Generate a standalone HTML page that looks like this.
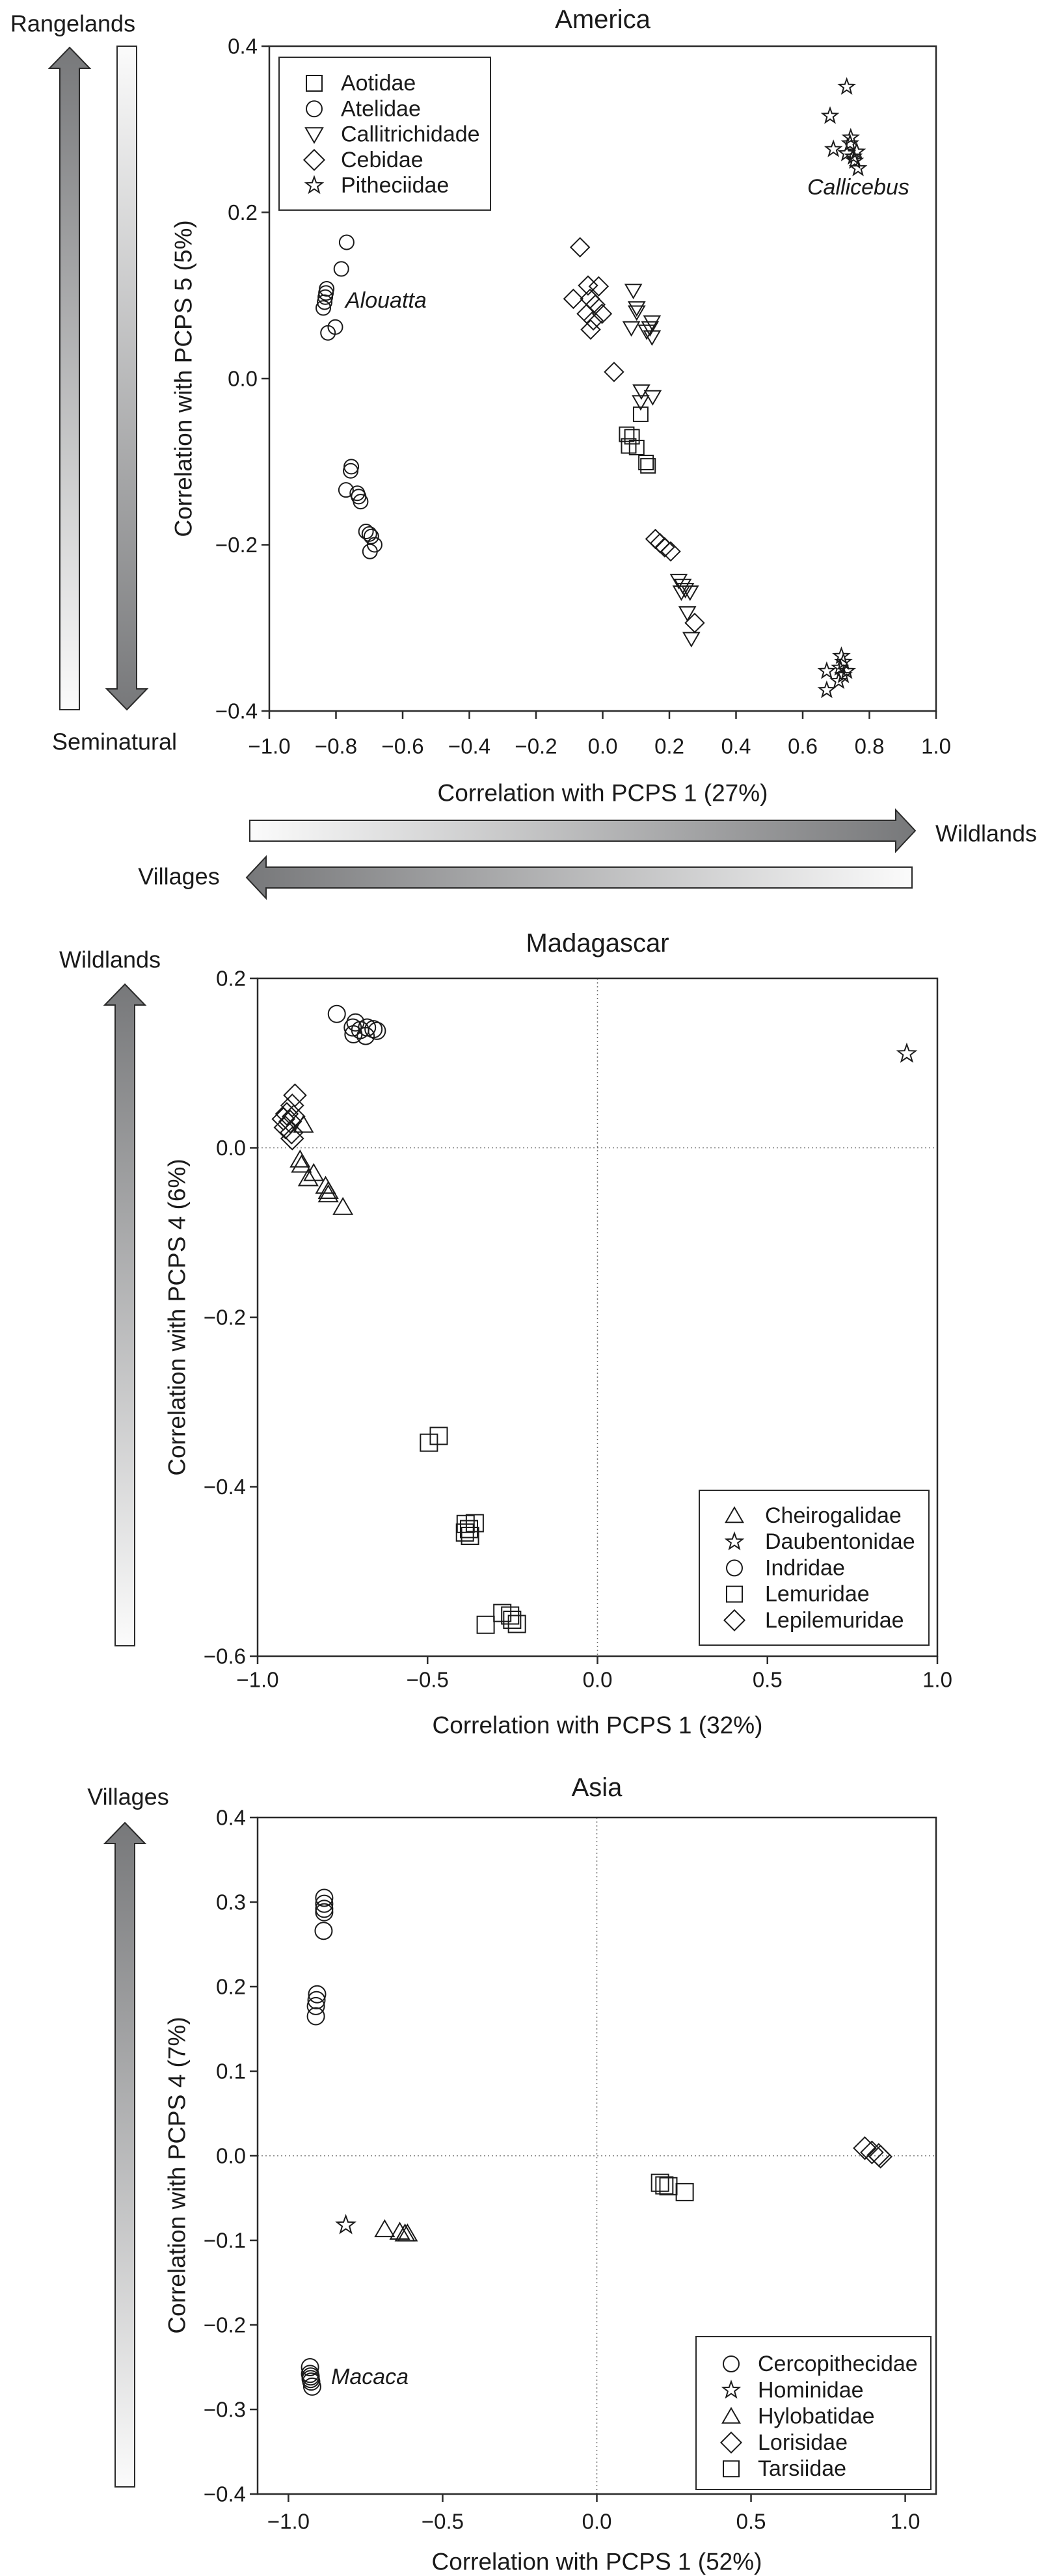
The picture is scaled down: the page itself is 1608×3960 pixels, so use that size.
<!DOCTYPE html>
<html><head><meta charset="utf-8"><style>
html,body{margin:0;padding:0;background:#fff;}
svg{display:block;font-family:"Liberation Sans",sans-serif;}
</style></head><body>
<svg id="fig" width="1608" height="3960" viewBox="0 0 1608 3960" xmlns="http://www.w3.org/2000/svg">
<defs>
<linearGradient id="gUp" x1="0" y1="0" x2="0" y2="1"><stop offset="0" stop-color="#77787a"/><stop offset="1" stop-color="#fbfbfb"/></linearGradient>
<linearGradient id="gDown" x1="0" y1="0" x2="0" y2="1"><stop offset="0" stop-color="#fbfbfb"/><stop offset="1" stop-color="#77787a"/></linearGradient>
<linearGradient id="gRight" x1="0" y1="0" x2="1" y2="0"><stop offset="0" stop-color="#fbfbfb"/><stop offset="1" stop-color="#77787a"/></linearGradient>
<linearGradient id="gLeft" x1="0" y1="0" x2="1" y2="0"><stop offset="0" stop-color="#77787a"/><stop offset="1" stop-color="#fbfbfb"/></linearGradient>
</defs>
<g id="layer"></g>
</svg>
<script>
// ---------- America data ----------
const amAotidaeX=[0.114,0.072,0.088,0.078,0.102,0.13,0.136];
const amAotidaeY=[-0.043,-0.067,-0.07,-0.081,-0.083,-0.101,-0.105];
const amAtelidaeX=[-0.768,-0.784,-0.828,-0.83,-0.832,-0.834,-0.838,-0.802,-0.824,-0.754,-0.756,-0.77,-0.736,-0.732,-0.726,-0.71,-0.70,-0.694,-0.684,-0.698];
const amAtelidaeY=[0.164,0.132,0.108,0.103,0.098,0.092,0.085,0.062,0.055,-0.106,-0.111,-0.134,-0.138,-0.142,-0.148,-0.184,-0.187,-0.19,-0.2,-0.208];
const amCalliX=[0.092,0.102,0.102,0.086,0.148,0.142,0.132,0.148,0.116,0.15,0.114,0.228,0.24,0.248,0.262,0.236,0.254,0.266];
const amCalliY=[0.106,0.085,0.08,0.061,0.068,0.061,0.057,0.05,-0.015,-0.022,-0.028,-0.243,-0.249,-0.254,-0.257,-0.257,-0.282,-0.313];
const amCebidaeX=[-0.068,-0.044,-0.012,-0.088,-0.038,-0.022,-0.048,-0.002,-0.028,-0.036,0.034,0.158,0.172,0.186,0.204,0.276];
const amCebidaeY=[0.158,0.112,0.111,0.096,0.096,0.089,0.078,0.078,0.07,0.059,0.008,-0.193,-0.198,-0.203,-0.208,-0.294];
const amPithX=[0.732,0.682,0.744,0.692,0.732,0.752,0.762,0.756,0.766,0.742,0.716,0.722,0.712,0.732,0.672,0.722,0.708,0.672];
const amPithY=[0.351,0.316,0.29,0.276,0.271,0.267,0.273,0.262,0.253,0.283,-0.334,-0.341,-0.348,-0.352,-0.352,-0.357,-0.364,-0.375];
const amXTicks=[-1.0,-0.8,-0.6,-0.4,-0.2,0.0,0.2,0.4,0.6,0.8,1.0];
const amYTicks=[-0.4,-0.2,0.0,0.2,0.4];
// ---------- Madagascar data ----------
const mdCheiroX=[-0.865,-0.875,-0.871,-0.835,-0.851,-0.8,-0.792,-0.792,-0.749];
const mdCheiroY=[0.027,-0.014,-0.02,-0.03,-0.036,-0.045,-0.051,-0.055,-0.07];
const mdDaubX=[0.91];
const mdDaubY=[0.111];
const mdIndriX=[-0.767,-0.712,-0.72,-0.698,-0.678,-0.659,-0.682,-0.718,-0.649];
const mdIndriY=[0.158,0.148,0.142,0.139,0.142,0.14,0.132,0.134,0.138];
const mdLemurX=[-0.467,-0.496,-0.361,-0.388,-0.378,-0.375,-0.39,-0.28,-0.257,-0.251,-0.329,-0.237];
const mdLemurY=[-0.34,-0.348,-0.443,-0.444,-0.45,-0.458,-0.454,-0.549,-0.552,-0.557,-0.563,-0.562];
const mdLepiX=[-0.89,-0.898,-0.914,-0.924,-0.904,-0.918,-0.894,-0.9,-0.898];
const mdLepiY=[0.062,0.05,0.04,0.034,0.031,0.024,0.037,0.018,0.011];
const mdXTicks=[-1.0,-0.5,0.0,0.5,1.0];
const mdYTicks=[-0.6,-0.4,-0.2,0.0,0.2];
// ---------- Asia data ----------
const asCercoX=[-0.884,-0.884,-0.884,-0.884,-0.886,-0.907,-0.909,-0.911,-0.911,-0.93,-0.93,-0.928,-0.926,-0.923,-0.928];
const asCercoY=[0.305,0.298,0.292,0.288,0.266,0.191,0.184,0.177,0.165,-0.25,-0.258,-0.264,-0.267,-0.273,-0.261];
const asHomX=[-0.814];
const asHomY=[-0.082];
const asHyloX=[-0.688,-0.639,-0.622,-0.614];
const asHyloY=[-0.087,-0.09,-0.092,-0.092];
const asLoriX=[0.869,0.892,0.914,0.92];
const asLoriY=[0.009,0.004,0.001,-0.001];
const asTarsX=[0.205,0.219,0.232,0.285];
const asTarsY=[-0.032,-0.035,-0.036,-0.043];
const asXTicks=[-1.0,-0.5,0.0,0.5,1.0];
const asYTicks=[-0.4,-0.3,-0.2,-0.1,0.0,0.1,0.2,0.3,0.4];

const NS="http://www.w3.org/2000/svg";
const layer=document.getElementById('layer');
function mk(tag,attrs,parent){const e=document.createElementNS(NS,tag);for(const k in attrs)e.setAttribute(k,attrs[k]);(parent||layer).appendChild(e);return e;}
function txt(s,x,y,size,parent,extra){const t=mk('text',Object.assign({x:x,y:y,'font-size':size,'fill':'#1a1a1a','text-anchor':'middle','dominant-baseline':'central'},extra||{}),parent);t.textContent=s;return t;}
function fmt(v){const s=Math.abs(v).toFixed(1);return (v<-1e-9?'\u2212':'')+s;}
function markerPath(type,cx,cy,r){
  if(type==='square'){return `M${cx-r},${cy-r}h${2*r}v${2*r}h${-2*r}z`;}
  if(type==='tri'){return `M${cx},${cy-r*1.05}L${cx+r*1.1},${cy+r*0.85}L${cx-r*1.1},${cy+r*0.85}z`;}
  if(type==='itri'){return `M${cx},${cy+r*1.05}L${cx+r*1.1},${cy-r*0.85}L${cx-r*1.1},${cy-r*0.85}z`;}
  if(type==='diamond'){const d=r*1.3;return `M${cx},${cy-d}L${cx+d},${cy}L${cx},${cy+d}L${cx-d},${cy}z`;}
  if(type==='star'){let p='';for(let i=0;i<10;i++){const a=-Math.PI/2+i*Math.PI/5;const rr=i%2?r*0.45:r*1.1;p+=(i?'L':'M')+(cx+rr*Math.cos(a)).toFixed(2)+','+(cy+rr*Math.sin(a)).toFixed(2);}return p+'z';}
  return '';
}
function marker(type,cx,cy,r,parent){
  if(type==='circle'){return mk('circle',{cx:cx,cy:cy,r:r,fill:'none',stroke:'#1a1a1a','stroke-width':2},parent);}
  return mk('path',{d:markerPath(type,cx,cy,r),fill:'none',stroke:'#1a1a1a','stroke-width':2,'stroke-linejoin':'miter'},parent);
}

function panel(cfg){
  const g=mk('g',{});
  
  
  const sx=v=>cfg.x0+(v-cfg.xmin)/(cfg.xmax-cfg.xmin)*(cfg.x1-cfg.x0);
  const sy=v=>cfg.y1-(v-cfg.ymin)/(cfg.ymax-cfg.ymin)*(cfg.y1-cfg.y0);
  const t=txt(cfg.title,(cfg.x0+cfg.x1)/2,cfg.titleY,40,g);
  
  
  if(cfg.zeroLines){
    const zl=mk('g',{},g);
    
    
    mk('line',{x1:sx(0),x2:sx(0),y1:cfg.y0,y2:cfg.y1,stroke:'#777','stroke-width':1.5,'stroke-dasharray':'2,4'},zl);
    mk('line',{x1:cfg.x0,x2:cfg.x1,y1:sy(0),y2:sy(0),stroke:'#777','stroke-width':1.5,'stroke-dasharray':'2,4'},zl);
  }
  const box=mk('rect',{x:cfg.x0,y:cfg.y0,width:cfg.x1-cfg.x0,height:cfg.y1-cfg.y0,fill:'none',stroke:'#2a2a2a','stroke-width':2.5},g);
  
  
  const xa=mk('g',{},g);
  
  
  cfg.xTicks.forEach(v=>{
    mk('line',{x1:sx(v),x2:sx(v),y1:cfg.y1,y2:cfg.y1+12,stroke:'#2a2a2a','stroke-width':2.5},xa);
    const l=txt(fmt(v),sx(v),cfg.tickY,33,xa);
    
    
  });
  const ya=mk('g',{},g);
  
  
  cfg.yTicks.forEach(v=>{
    mk('line',{x1:cfg.x0-12,x2:cfg.x0,y1:sy(v),y2:sy(v),stroke:'#2a2a2a','stroke-width':2.5},ya);
    const l=txt(fmt(v),cfg.x0-18,sy(v),33,ya,{'text-anchor':'end'});
    
    
  });
  const xt=txt(cfg.xTitle,(cfg.x0+cfg.x1)/2,cfg.xTitleY,37,g);
  
  
  const yt=txt(cfg.yTitle,0,0,37,g,{transform:`translate(${cfg.yTitleX},${cfg.yTitleYc}) rotate(-90)`});
  
  
  cfg.series.forEach(s=>{
    const sg=mk('g',{},g);
    
    
    s.xs.forEach((xv,i)=>{
      const m=marker(s.type,sx(xv),sy(s.ys[i]),cfg.r,sg);
      
      
    });
  });
  const L=cfg.legend;
  const lg=mk('g',{},g);
  
  
  mk('rect',{x:L.x,y:L.y,width:L.w,height:L.h,fill:'#fff',stroke:'#2a2a2a','stroke-width':2},lg);
  L.order.forEach((si,k)=>{
    const s=cfg.series[si];
    const ey=L.ey0+k*L.dy;
    const e=mk('g',{},lg);
    
    
    marker(s.type,L.sxc,ey,12,e);
    txt(s.label,L.tx,ey,34,e,{'text-anchor':'start'});
  });
  (cfg.notes||[]).forEach(n=>{
    const a=txt(n.t,n.x,n.y,34,g,{'text-anchor':'start','font-style':'italic'});
    
    
  });
}

panel({name:'america',title:'America',titleY:30,x0:414,x1:1439,y0:71,y1:1093,xmin:-1,xmax:1,ymin:-0.4,ymax:0.4,
  xTicks:amXTicks,yTicks:amYTicks,tickY:1147,xTitle:'Correlation with PCPS 1 (27%)',xTitleY:1219,
  yTitle:'Correlation with PCPS 5 (5%)',yTitleX:282,yTitleYc:582,r:11,zeroLines:false,
  series:[{label:'Aotidae',type:'square',xs:amAotidaeX,ys:amAotidaeY},
          {label:'Atelidae',type:'circle',xs:amAtelidaeX,ys:amAtelidaeY},
          {label:'Callitrichidade',type:'itri',xs:amCalliX,ys:amCalliY},
          {label:'Cebidae',type:'diamond',xs:amCebidaeX,ys:amCebidaeY},
          {label:'Pitheciidae',type:'star',xs:amPithX,ys:amPithY}],
  legend:{x:429,y:88,w:325,h:235,ey0:128,dy:39.3,sxc:483,tx:524,order:[0,1,2,3,4]},
  notes:[{t:'Alouatta',x:531,y:462},{t:'Callicebus',x:1241,y:288}]});

panel({name:'madagascar',title:'Madagascar',titleY:1450,x0:396,x1:1441,y0:1504,y1:2546,xmin:-1,xmax:1,ymin:-0.6,ymax:0.2,
  xTicks:mdXTicks,yTicks:mdYTicks,tickY:2582,xTitle:'Correlation with PCPS 1 (32%)',xTitleY:2652,
  yTitle:'Correlation with PCPS 4 (6%)',yTitleX:272,yTitleYc:2025,r:13,zeroLines:true,
  series:[{label:'Cheirogalidae',type:'tri',xs:mdCheiroX,ys:mdCheiroY},
          {label:'Daubentonidae',type:'star',xs:mdDaubX,ys:mdDaubY},
          {label:'Indridae',type:'circle',xs:mdIndriX,ys:mdIndriY},
          {label:'Lemuridae',type:'square',xs:mdLemurX,ys:mdLemurY},
          {label:'Lepilemuridae',type:'diamond',xs:mdLepiX,ys:mdLepiY}],
  legend:{x:1075,y:2291,w:353,h:238,ey0:2330,dy:40.2,sxc:1129,tx:1176,order:[0,1,2,3,4]}});

panel({name:'asia',title:'Asia',titleY:2748,x0:396,x1:1439,y0:2794,y1:3834,xmin:-1.1,xmax:1.1,ymin:-0.4,ymax:0.4,
  xTicks:asXTicks,yTicks:asYTicks,tickY:3876,xTitle:'Correlation with PCPS 1 (52%)',xTitleY:3938,
  yTitle:'Correlation with PCPS 4 (7%)',yTitleX:272,yTitleYc:3344,r:13,zeroLines:true,
  series:[{label:'Cercopithecidae',type:'circle',xs:asCercoX,ys:asCercoY},
          {label:'Hominidae',type:'star',xs:asHomX,ys:asHomY},
          {label:'Hylobatidae',type:'tri',xs:asHyloX,ys:asHyloY},
          {label:'Lorisidae',type:'diamond',xs:asLoriX,ys:asLoriY},
          {label:'Tarsiidae',type:'square',xs:asTarsX,ys:asTarsY}],
  legend:{x:1070,y:3592,w:361,h:235,ey0:3634,dy:40.3,sxc:1124,tx:1165,order:[0,1,2,3,4]},
  notes:[{t:'Macaca',x:509,y:3654}]});

// ---------- gradient arrows ----------
function vArrow(name,cx,top,bottom,up,fill){
  const hw=15,hh=31,hb=32;
  let d;
  if(up){d=`M${cx},${top}L${cx+hh},${top+hb}L${cx+hw},${top+hb}L${cx+hw},${bottom}L${cx-hw},${bottom}L${cx-hw},${top+hb}L${cx-hh},${top+hb}z`;}
  else{d=`M${cx},${bottom}L${cx+hh},${bottom-hb}L${cx+hw},${bottom-hb}L${cx+hw},${top}L${cx-hw},${top}L${cx-hw},${bottom-hb}L${cx-hh},${bottom-hb}z`;}
  const p=mk('path',{d:d,fill:fill,stroke:'#2a2a2a','stroke-width':2});
  
  
}
function hArrow(name,cy,left,right,toRight,fill){
  const hw=16,hh=32,hb=30;
  let d;
  if(toRight){d=`M${right},${cy}L${right-hb},${cy-hh}L${right-hb},${cy-hw}L${left},${cy-hw}L${left},${cy+hw}L${right-hb},${cy+hw}L${right-hb},${cy+hh}z`;}
  else{d=`M${left},${cy}L${left+hb},${cy-hh}L${left+hb},${cy-hw}L${right},${cy-hw}L${right},${cy+hw}L${left+hb},${cy+hw}L${left+hb},${cy+hh}z`;}
  const p=mk('path',{d:d,fill:fill,stroke:'#2a2a2a','stroke-width':2});
  
  
}
vArrow('rangelands-arrow',107,73,1091,true,'url(#gUp)');
vArrow('seminatural-arrow',195,71,1091,false,'url(#gDown)');
hArrow('wildlands-arrow',1277,384,1407,true,'url(#gRight)');
hArrow('villages-arrow',1349,379,1402,false,'url(#gLeft)');
vArrow('madagascar-wildlands-arrow',192,1513,2530,true,'url(#gUp)');
vArrow('asia-villages-arrow',192,2802,3823,true,'url(#gUp)');

function label(s,x,y,name){const t=txt(s,x,y,36,layer);}
label('Rangelands',112,36,'rangelands-label');
label('Seminatural',176,1140,'seminatural-label');
label('Wildlands',1516,1281,'wildlands-label');
label('Villages',275,1347,'villages-label');
label('Wildlands',169,1475,'madagascar-wildlands-label');
label('Villages',197,2762,'asia-villages-label');
</script>
</body></html>
